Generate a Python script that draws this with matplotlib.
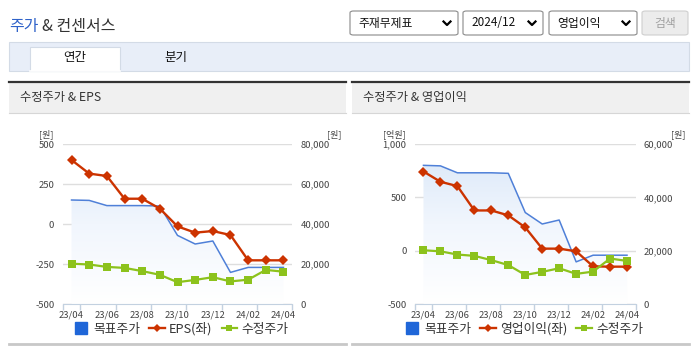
import matplotlib
matplotlib.use("Agg")
import matplotlib.pyplot as plt
import numpy as np
from matplotlib.patches import Rectangle, FancyBboxPatch
from matplotlib.lines import Line2D
from matplotlib.colors import LinearSegmentedColormap
from matplotlib.ticker import FuncFormatter

plt.rcParams['font.family'] = ['Noto Sans CJK KR', 'DejaVu Sans']

# data
months = ['23/04', '23/05', '23/06', '23/07', '23/08', '23/09', '23/10',
          '23/11', '23/12', '24/01', '24/02', '24/03', '24/04']
eps = [400, 315, 300, 158, 158, 96, -15, -54, -44, -69, -227, -227, -227]
op_profit = [742, 646, 605, 377, 377, 331, 218, 19, 19, -6, -147, -150, -150]
target_price = [52000, 51800, 49200, 49200, 49200, 49000, 34300, 30000,
                31500, 15800, 18300, 18300, 18300]
adj_price = [20150, 19750, 18550, 18050, 16450, 14600, 10900, 12050,
             13400, 11300, 12150, 17050, 16150]

W, H = 695, 349
BLUE = "#4f80d8"
RED = "#cc3300"
GREEN = "#8cc21c"
TXT = "#444444"

fig = plt.figure(figsize=(W / 100, H / 100), dpi=100)


def fx(x):
    return x / W


def fy(y):
    return 1 - y / H


def rect(x0, y0, x1, y1, **kw):
    r = Rectangle((fx(x0), fy(y1)), (x1 - x0) / W, (y1 - y0) / H,
                  transform=fig.transFigure, **kw)
    fig.add_artist(r)


def hline(x0, x1, y, **kw):
    fig.add_artist(Line2D([fx(x0), fx(x1)], [fy(y), fy(y)], transform=fig.transFigure, **kw))


# ---- page header ----
fig.text(fx(9), fy(27), "주가", color="#2f62c9", fontsize=11.5, va="center")
fig.text(fx(42), fy(27), "& 컨센서스", color="#333333", fontsize=11.5, va="center")

dropdowns = [(350, 458, "주재무제표"), (463, 543, "2024/12"), (549, 637, "영업이익")]
for x0, x1, label in dropdowns:
    fig.add_artist(FancyBboxPatch((fx(x0), fy(35)), (x1 - x0) / W, 24 / H,
                                  boxstyle="round,pad=0,rounding_size=0.005",
                                  transform=fig.transFigure, facecolor="white",
                                  edgecolor="#8a8a8a", lw=0.8))
    fig.text(fx(x0 + 8), fy(23), label, fontsize=8.5, color="#111111", va="center")
    cx = x1 - 11
    fig.add_artist(Line2D([fx(cx - 3.5), fx(cx), fx(cx + 3.5)], [fy(21.5), fy(25), fy(21.5)],
                          transform=fig.transFigure, color="black", lw=1.6))
fig.add_artist(FancyBboxPatch((fx(642), fy(35)), 46 / W, 24 / H,
                              boxstyle="round,pad=0,rounding_size=0.005",
                              transform=fig.transFigure, facecolor="#ececec",
                              edgecolor="#cfcfcf", lw=0.8))
fig.text(fx(665.5), fy(23), "검색", fontsize=8.5, color="#a0a0a0", ha="center", va="center")

# tab bar
rect(9, 41.5, 688.5, 70.5, facecolor="#e8eef8", edgecolor="#d3dbe6", lw=0.8)
rect(29.5, 46.5, 120, 71, facecolor="white", edgecolor="#d3dbe6", lw=0.8)
hline(30, 119.5, 70.6, color="white", lw=1.2)
fig.text(fx(75), fy(58), "연간", fontsize=9, color="#111111", ha="center", va="center")
fig.text(fx(176), fy(58), "분기", fontsize=9, color="#111111", ha="center", va="center")

grad_cmap = LinearSegmentedColormap.from_list("g", ["#ffffff", "#f1f6fd", "#d9e7f8"])


def panel(px0, px1, title, bar_name, bar_vals, left_ticks, left_lim, right_max, right_step,
          plot_x0, plot_x1, unit_left, unit_left_x, leg_center):
    # panel header
    rect(px0, 81, px1, 113, facecolor="#f0f0f0", edgecolor="none")
    hline(px0, px1, 81.5, color="#333333", lw=1.6)
    hline(px0, px1, 113, color="#d6d6d6", lw=0.8)
    fig.text(fx(px0 + 11), fy(98), title, fontsize=8.8, color="#333333", va="center")
    hline(px0, px1, 344, color="#c8c8c8", lw=2)

    ax = fig.add_axes([fx(plot_x0), fy(304), (plot_x1 - plot_x0) / W, 160 / H])
    ax_r = ax.twinx()
    ax_g = ax.twinx()
    ax_r.set_zorder(1)
    ax.set_zorder(2)
    ax_g.set_zorder(3)
    ax.patch.set_visible(False)
    ax_g.patch.set_visible(False)

    x = np.arange(len(months))
    for a in (ax, ax_r, ax_g):
        a.set_xlim(-0.5, len(months) - 0.5)
        for s in a.spines.values():
            s.set_visible(False)
    ax_r.set_ylim(0, right_max)
    ax_g.set_ylim(0, right_max)
    ax.set_ylim(*left_lim)

    # target price area with gradient
    poly = ax_r.fill_between(x, target_price, 0, facecolor="none", edgecolor="none")
    grad = np.linspace(0, 1, 256)[:, None]
    im = ax_r.imshow(grad, extent=(-0.5, len(months) - 0.5, 0, right_max), origin="lower",
                     aspect="auto", cmap=grad_cmap, zorder=1)
    im.set_clip_path(poly.get_paths()[0], transform=ax_r.transData)
    ax_r.plot(x, target_price, color=BLUE, lw=1.1, zorder=3)
    ax_r.set_xlim(-0.5, len(months) - 0.5)
    ax_r.set_ylim(0, right_max)

    # grid on the bottom axis
    rticks = np.arange(0, right_max + 1, right_step)
    ax_r.set_yticks(rticks)
    ax_r.yaxis.set_major_formatter(FuncFormatter(lambda v, p: f"{int(v):,}"))
    ax_r.yaxis.grid(True, color="#dedede", lw=1)
    ax_r.set_axisbelow(True)
    ax_r.tick_params(axis="y", length=0, pad=6, labelsize=6.8, labelcolor=TXT)
    ax_r.tick_params(axis="x", which="both", bottom=False, labelbottom=False)

    ax.plot(x, bar_vals, color=RED, lw=1.7, marker="D", markersize=4.6,
            markeredgewidth=0, zorder=3)
    ax.set_yticks(left_ticks)
    ax.yaxis.set_major_formatter(FuncFormatter(lambda v, p: f"{int(v):,}"))
    ax.tick_params(axis="y", length=0, pad=6, labelsize=6.8, labelcolor=TXT)
    ax.spines["bottom"].set_visible(True)
    ax.spines["bottom"].set_color("#c3d1e0")
    ax.set_xticks(x[::2])
    ax.set_xticklabels(months[::2])
    ax.set_xticks([-0.5] + list(np.arange(0.5, len(months), 2)), minor=True)
    ax.tick_params(axis="x", which="major", length=0, pad=5, labelsize=6.8, labelcolor=TXT)
    ax.tick_params(axis="x", which="minor", length=4, color="#c3d1e0", width=1)

    ax_g.plot(x, adj_price, color=GREEN, lw=1.6, marker="s", markersize=5.6,
              markeredgewidth=0, zorder=3)
    ax_g.tick_params(axis="both", which="both", left=False, right=False, bottom=False,
                     labelleft=False, labelright=False, labelbottom=False)

    # unit labels
    fig.text(fx(unit_left_x), fy(134), unit_left, fontsize=6.5, color=TXT, ha="right", va="center")
    fig.text(fx(px1 - 4), fy(134), "[원]", fontsize=6.5, color=TXT, ha="right", va="center")

    handles = [
        Line2D([], [], ls="none", marker="s", markersize=8.5, color="#1f66d8"),
        Line2D([], [], color=RED, lw=1.7, marker="D", markersize=4, markeredgewidth=0),
        Line2D([], [], color=GREEN, lw=1.6, marker="s", markersize=5, markeredgewidth=0),
    ]
    fig.legend(handles, ["목표주가", bar_name, "수정주가"], loc="center",
               bbox_to_anchor=(fx(leg_center), fy(329)), ncol=3, frameon=False,
               fontsize=9.2, handlelength=1.2, handletextpad=0.35, columnspacing=0.7,
               labelcolor="#333333")


panel(9, 346, "수정주가 & EPS", "EPS(좌)", eps, [-500, -250, 0, 250, 500], (-500, 500),
      80000, 20000, 62.7, 292.3, "[원]", 54, 181)
panel(352, 689, "수정주가 & 영업이익", "영업이익(좌)", op_profit, [-500, 0, 500, 1000], (-500, 1000),
      60000, 20000, 415, 635.5, "[억원]", 406, 524)

fig.savefig("out.png", dpi=100)
